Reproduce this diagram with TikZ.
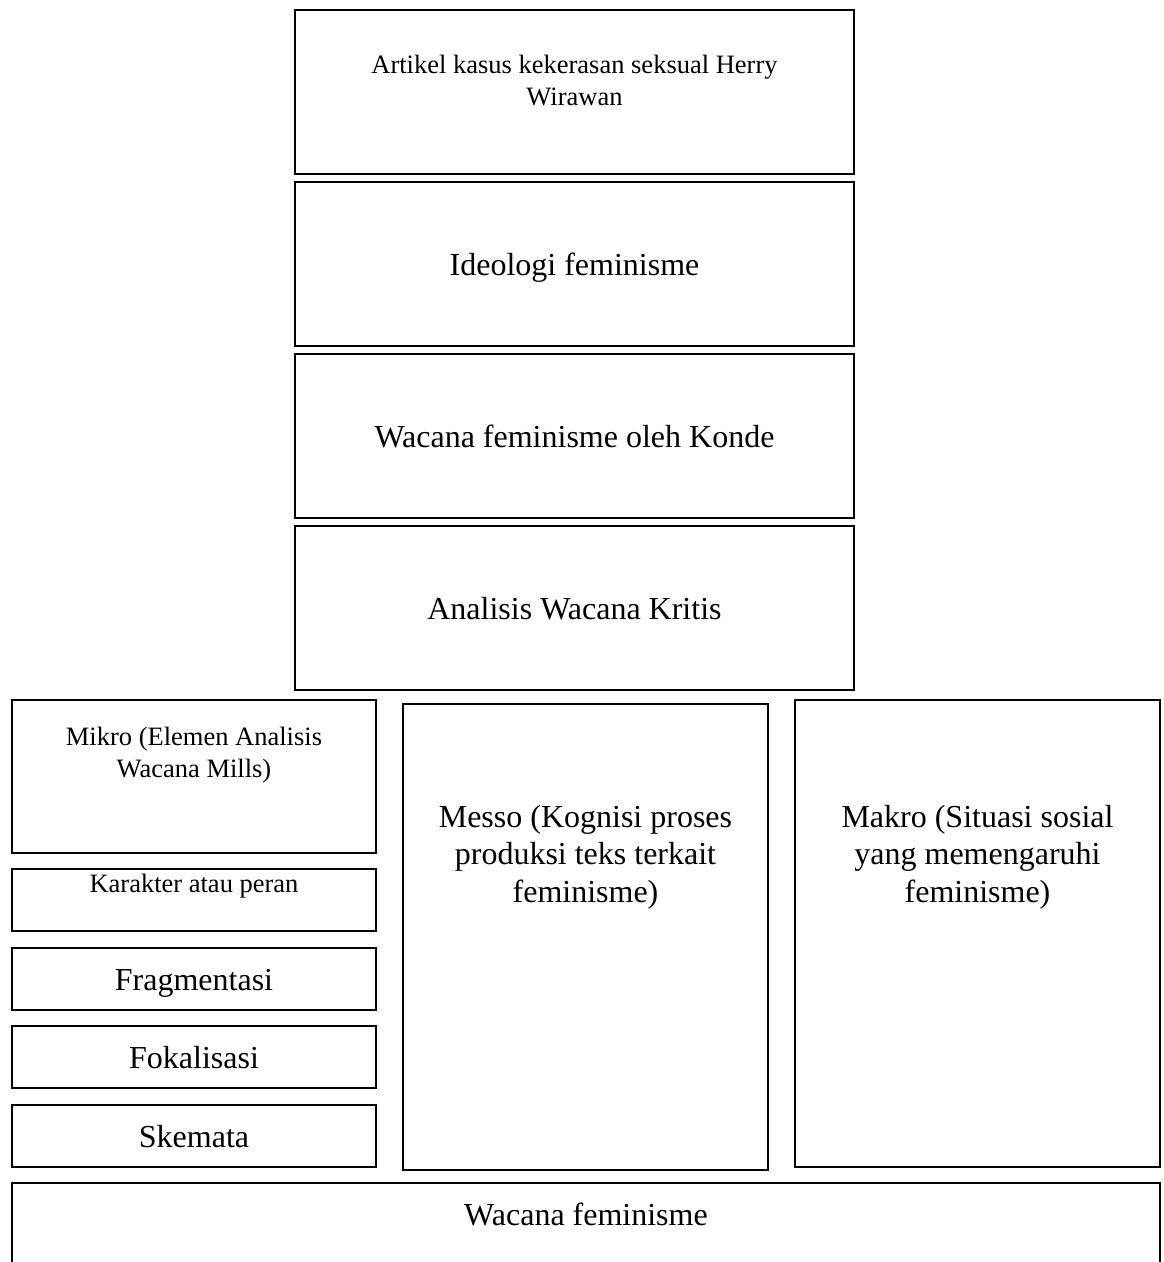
\documentclass[tikz,border=0pt]{standalone}
\usepackage{fontspec}
\setmainfont{Liberation Serif}
\usetikzlibrary{positioning}
\tikzset{
  kotak/.style = {rectangle, draw=black, fill=white, line width=1.6pt,
    inner sep=0pt, outer sep=0pt},% kotak polos
  teks_b/.style = {align=center, inner sep=0pt,
    font=\fontsize{32}{37.5}\selectfont},% teks besar
  teks_k/.style = {align=center, inner sep=0pt,
    font=\fontsize{26.5}{32}\selectfont},% teks kecil
  lebar/.style = {kotak, teks_b, minimum width=559pt,
    minimum height=164pt, text height=23pt, text depth=0pt},% kotak tengah atas
  sisi/.style = {kotak, teks_b, minimum width=364pt,
    minimum height=62pt, text height=23pt, text depth=0pt}% kotak elemen mikro
}

\begin{document}
\begin{tikzpicture}[x=1pt,y=-1pt]
\clip (0,0) rectangle (1164,1262);
% tumpukan atas
\node [lebar, anchor=north west] (artikel) at (295,10) {};
\node [lebar, below=8pt of artikel] (ideologi) {Ideologi feminisme};
\node [lebar, below=8pt of ideologi] (konde) {Wacana feminisme oleh Konde};
\node [lebar, below=8pt of konde] (awk) {Analisis Wacana Kritis};
\node [teks_k, anchor=base] (artikel_t) at ([yshift=-95pt]artikel.north)
  {Artikel kasus kekerasan seksual Herry\\Wirawan};
% kolom mikro
\node [kotak, anchor=north west, minimum width=364pt,
  minimum height=153pt] (mikro) at (12,700) {};
\node [teks_k, anchor=base] (mikro_t) at ([yshift=-77pt]mikro.north)
  {Mikro (Elemen Analisis\\Wacana Mills)};
\node [sisi, below=16pt of mikro] (karakter) {};
\node [teks_k, anchor=base] (karakter_t) at ([yshift=-23pt]karakter.north)
  {Karakter atau peran};
\node [sisi, below=17pt of karakter] (fragmen) {Fragmentasi};
\node [sisi, below=16pt of fragmen] (fokal) {Fokalisasi};
\node [sisi, below=17pt of fokal] (skemata) {Skemata};
% messo dan makro
\node [kotak, anchor=north west, minimum width=365pt,
  minimum height=466pt] (messo) at (403,704) {};
\node [teks_b, anchor=base] (messo_t) at ([yshift=-198pt]messo.north)
  {Messo (Kognisi proses\\produksi teks terkait\\feminisme)};
\node [kotak, anchor=north west, minimum width=365pt,
  minimum height=467pt] (makro) at (795,700) {};
\node [teks_b, anchor=base] (makro_t) at ([yshift=-202pt]makro.north)
  {Makro (Situasi sosial\\yang memengaruhi\\feminisme)};
% dasar
\node [kotak, anchor=north west, minimum width=1148pt,
  minimum height=150pt] (wacana) at (12,1183) {};
\node [teks_b, anchor=base] (wacana_t) at ([yshift=-42pt]wacana.north)
  {Wacana feminisme};
\end{tikzpicture}
\end{document}
